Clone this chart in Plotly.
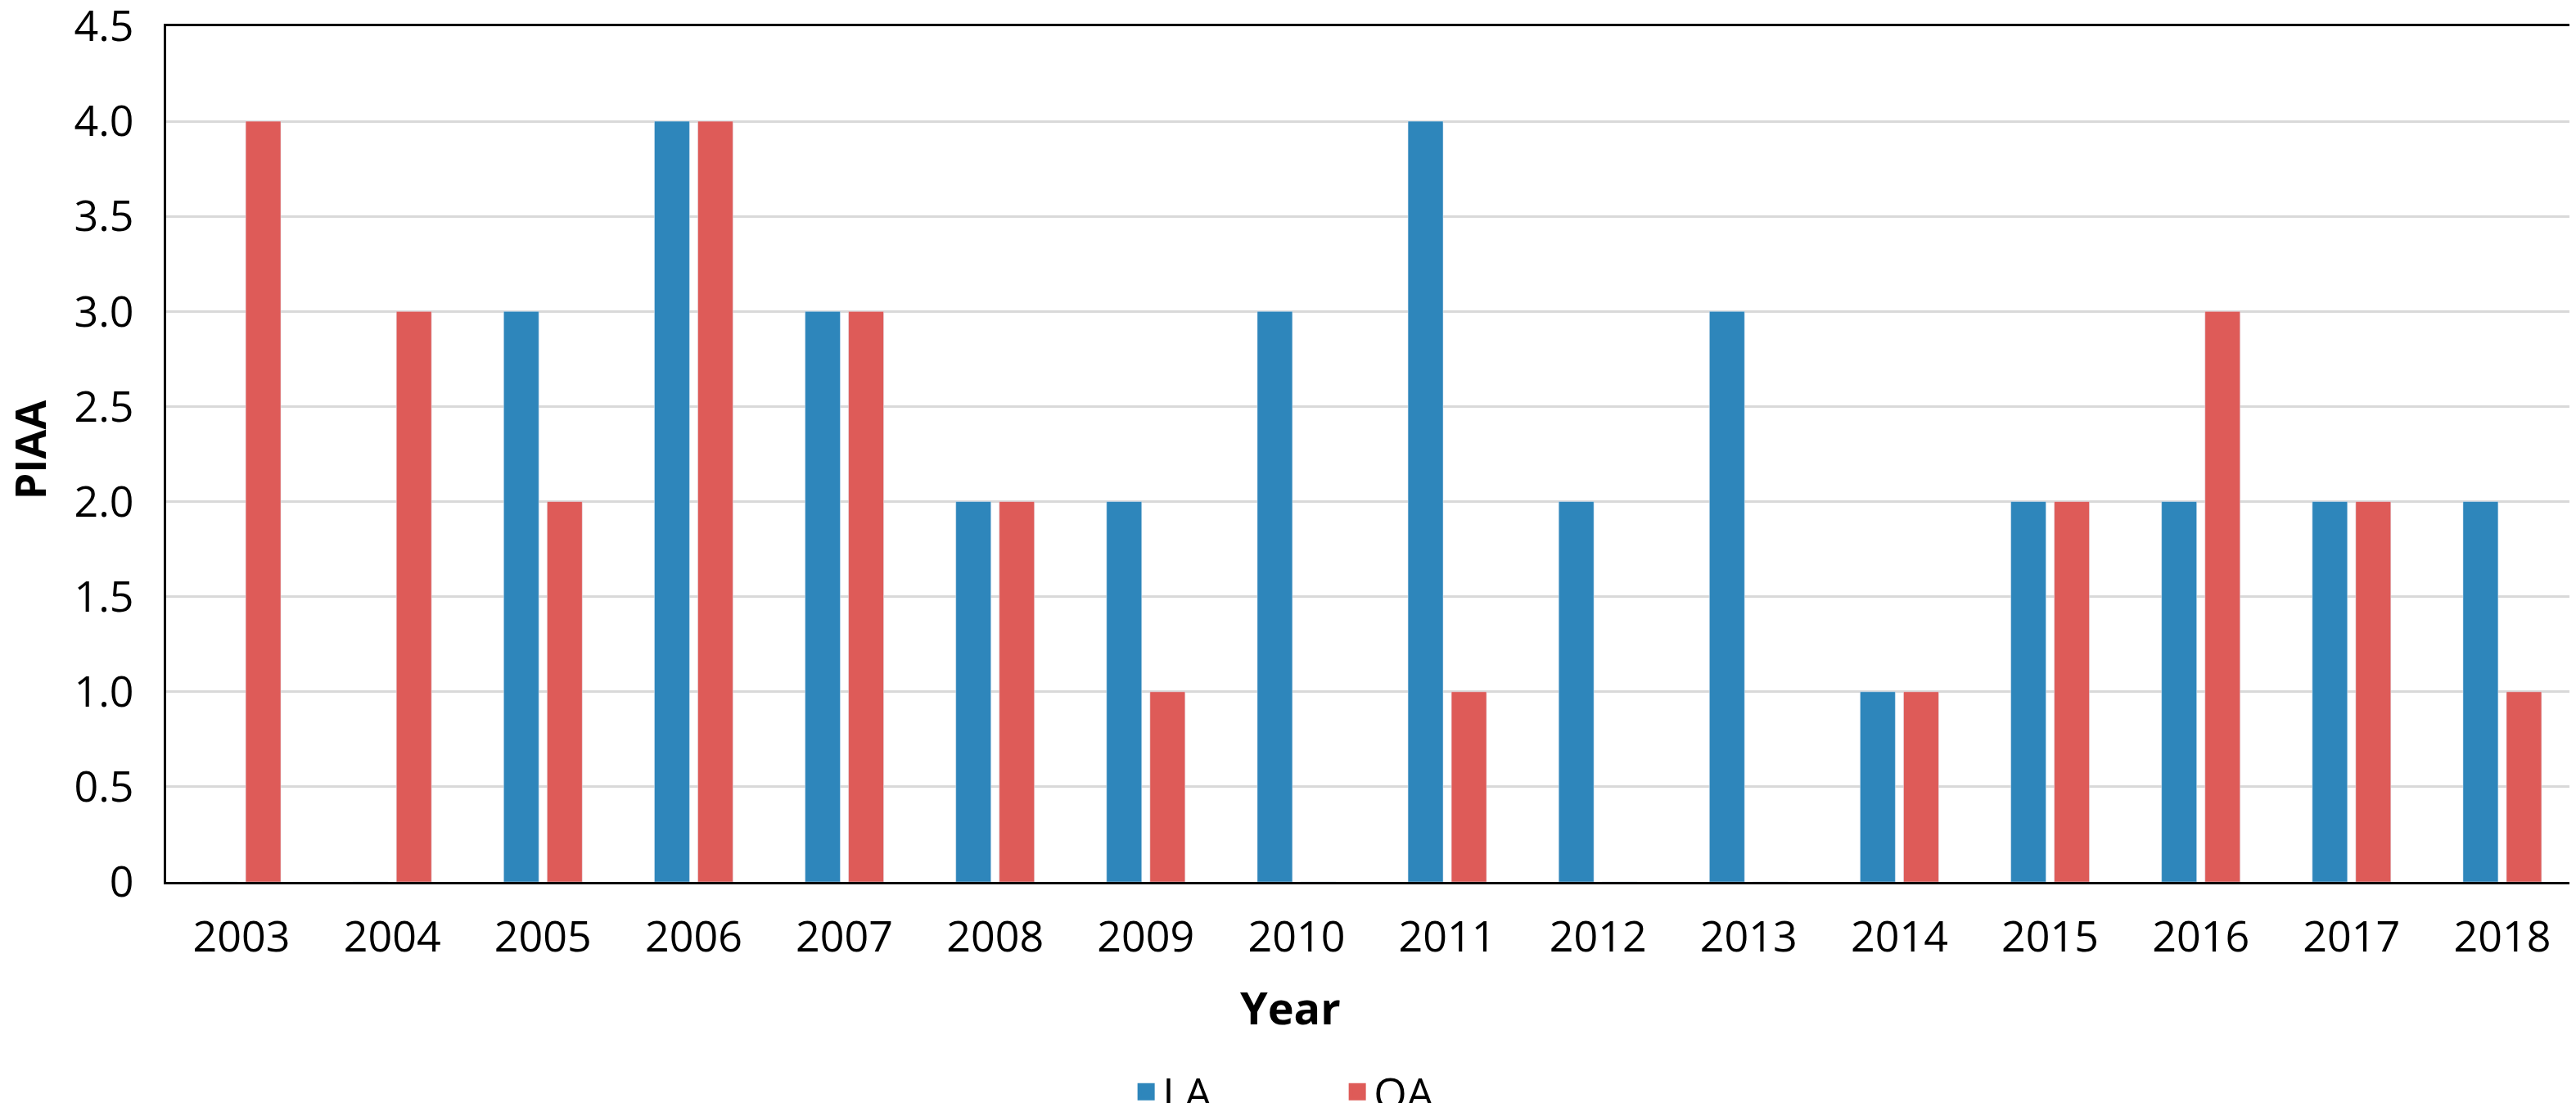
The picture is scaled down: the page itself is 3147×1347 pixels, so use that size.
import plotly.graph_objects as go

years = ["2003", "2004", "2005", "2006", "2007", "2008", "2009", "2010",
         "2011", "2012", "2013", "2014", "2015", "2016", "2017", "2018"]
la_values = [0, 0, 3, 4, 3, 2, 2, 3, 4, 2, 3, 1, 2, 2, 2, 2]
oa_values = [4, 3, 2, 4, 3, 2, 1, 0, 1, 0, 0, 1, 2, 3, 2, 1]
y_tick_vals = [0, 0.5, 1.0, 1.5, 2.0, 2.5, 3.0, 3.5, 4.0, 4.5]
y_tick_text = ["0", "0.5", "1.0", "1.5", "2.0", "2.5", "3.0", "3.5", "4.0", "4.5"]

BLUE = "#2E86BB"
RED = "#DE5B58"
FONT = "Open Sans"

fig = go.Figure()
fig.add_trace(go.Bar(x=years, y=la_values, name="LA", marker_color=BLUE,
                     showlegend=False))
fig.add_trace(go.Bar(x=years, y=oa_values, name="OA", marker_color=RED,
                     showlegend=False))
# legend entries with larger square swatches
for nm, col in (("LA", BLUE), ("OA", RED)):
    fig.add_trace(go.Scatter(x=[None], y=[None], mode="markers", name=nm,
                             marker=dict(symbol="square", size=16, color=col,
                                         line=dict(width=5, color=col)),
                             showlegend=True))

fig.update_layout(
    width=3147, height=1347,
    margin=dict(l=195, r=6, t=24, b=278),
    paper_bgcolor="white", plot_bgcolor="white",
    barmode="group", bargap=0.424, bargroupgap=0.19,
    font=dict(family=FONT, size=52, color="black"),
    showlegend=True,
    legend=dict(orientation="h", xref="container", yref="container",
                x=0.518, xanchor="center", y=0.016, yanchor="middle",
                font=dict(size=52), entrywidth=213, entrywidthmode="pixels",
                traceorder="normal"),
)
fig.update_xaxes(
    type="category", showline=True, linecolor="black", linewidth=3,
    mirror=True, showgrid=False, ticks="", ticklabelstandoff=20,
    tickfont=dict(size=52), automargin=False,
)
fig.update_yaxes(
    range=[0, 4.5], tickvals=y_tick_vals, ticktext=y_tick_text,
    showline=True, linecolor="black", linewidth=3, mirror=True,
    showgrid=True, gridcolor="#D9D9D9", gridwidth=3, zeroline=False,
    ticks="", ticklabelstandoff=26, tickfont=dict(size=52),
    ticklabeloverflow="allow", automargin=False,
)
fig.add_annotation(text="<b>Year</b>", xref="paper", yref="paper",
                   x=0.4663, y=-0.1464, xanchor="center", yanchor="middle",
                   showarrow=False, font=dict(size=54, family=FONT))
fig.add_annotation(text="<b>PIAA</b>", xref="paper", yref="paper",
                   x=-0.057, y=0.505, xanchor="center", yanchor="middle",
                   textangle=-90, showarrow=False,
                   font=dict(size=52, family=FONT))

fig.write_html("out.html")
